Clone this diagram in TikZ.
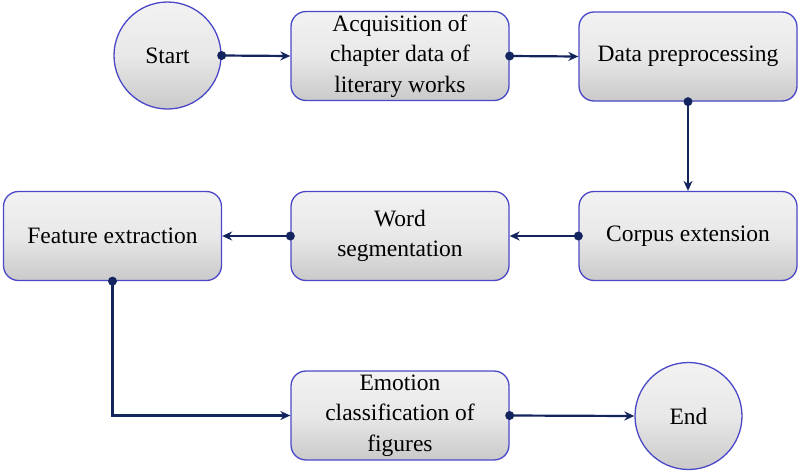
\documentclass[tikz,border=0pt]{standalone}
\usepackage{fontspec}
\setmainfont{Liberation Serif}
\usetikzlibrary{arrows.meta}
\definecolor{edgeblue}{HTML}{4A48C8}
\definecolor{conncol}{HTML}{13245E}
\tikzset{
  procbox/.style={draw=edgeblue, line width=1.3pt, rounded corners=15pt,
    minimum width=218pt, minimum height=89pt, align=center, inner sep=2pt,
    top color=gray!10, bottom color=gray!42, middle color=gray!18,
    font=\fontsize{23.5}{30.5}\selectfont},
  termcirc/.style={draw=edgeblue, line width=1.3pt, circle, minimum size=107pt,
    top color=gray!10, bottom color=gray!42, middle color=gray!18,
    font=\fontsize{23.5}{30.5}\selectfont},
  conn/.style={draw=conncol, line width=2.2pt, -{Stealth[length=10pt,width=9pt]}},
  dotc/.style={fill=conncol}
}
\begin{document}
\begin{tikzpicture}[x=1pt,y=-1pt]
\useasboundingbox (0,0) rectangle (800,472);
\node[termcirc] (start) at (167.5,55.5) {Start};
\node[procbox] (acq) at (400,56) {Acquisition of\\chapter data of\\literary works};
\node[procbox] (pre) at (688,56.5) {Data preprocessing};
\node[procbox] (cor) at (688,236) {Corpus extension};
\node[procbox] (seg) at (400,236) {Word\\segmentation};
\node[procbox] (fea) at (112.5,236) {Feature extraction};
\node[procbox] (emo) at (400,415.5) {Emotion\\classification of\\figures};
\node[termcirc] (end) at (688.5,416) {End};

\draw[conn] (start.east) -- (acq.west);
\draw[conn] (acq.east) -- (pre.west);
\draw[conn] (pre.south) -- (cor.north);
\draw[conn] (cor.west) -- (seg.east);
\draw[conn] (seg.west) -- (fea.east);
\draw[conn] (fea.south) |- (emo.west);
\draw[conn] (emo.east) -- (end.west);

\fill[dotc] (start.east) circle (4.5);
\fill[dotc] (acq.east) circle (4.5);
\fill[dotc] (pre.south) circle (4.5);
\fill[dotc] (cor.west) circle (4.5);
\fill[dotc] (seg.west) circle (4.5);
\fill[dotc] (fea.south) circle (4.5);
\fill[dotc] (emo.east) circle (4.5);
\end{tikzpicture}
\end{document}
